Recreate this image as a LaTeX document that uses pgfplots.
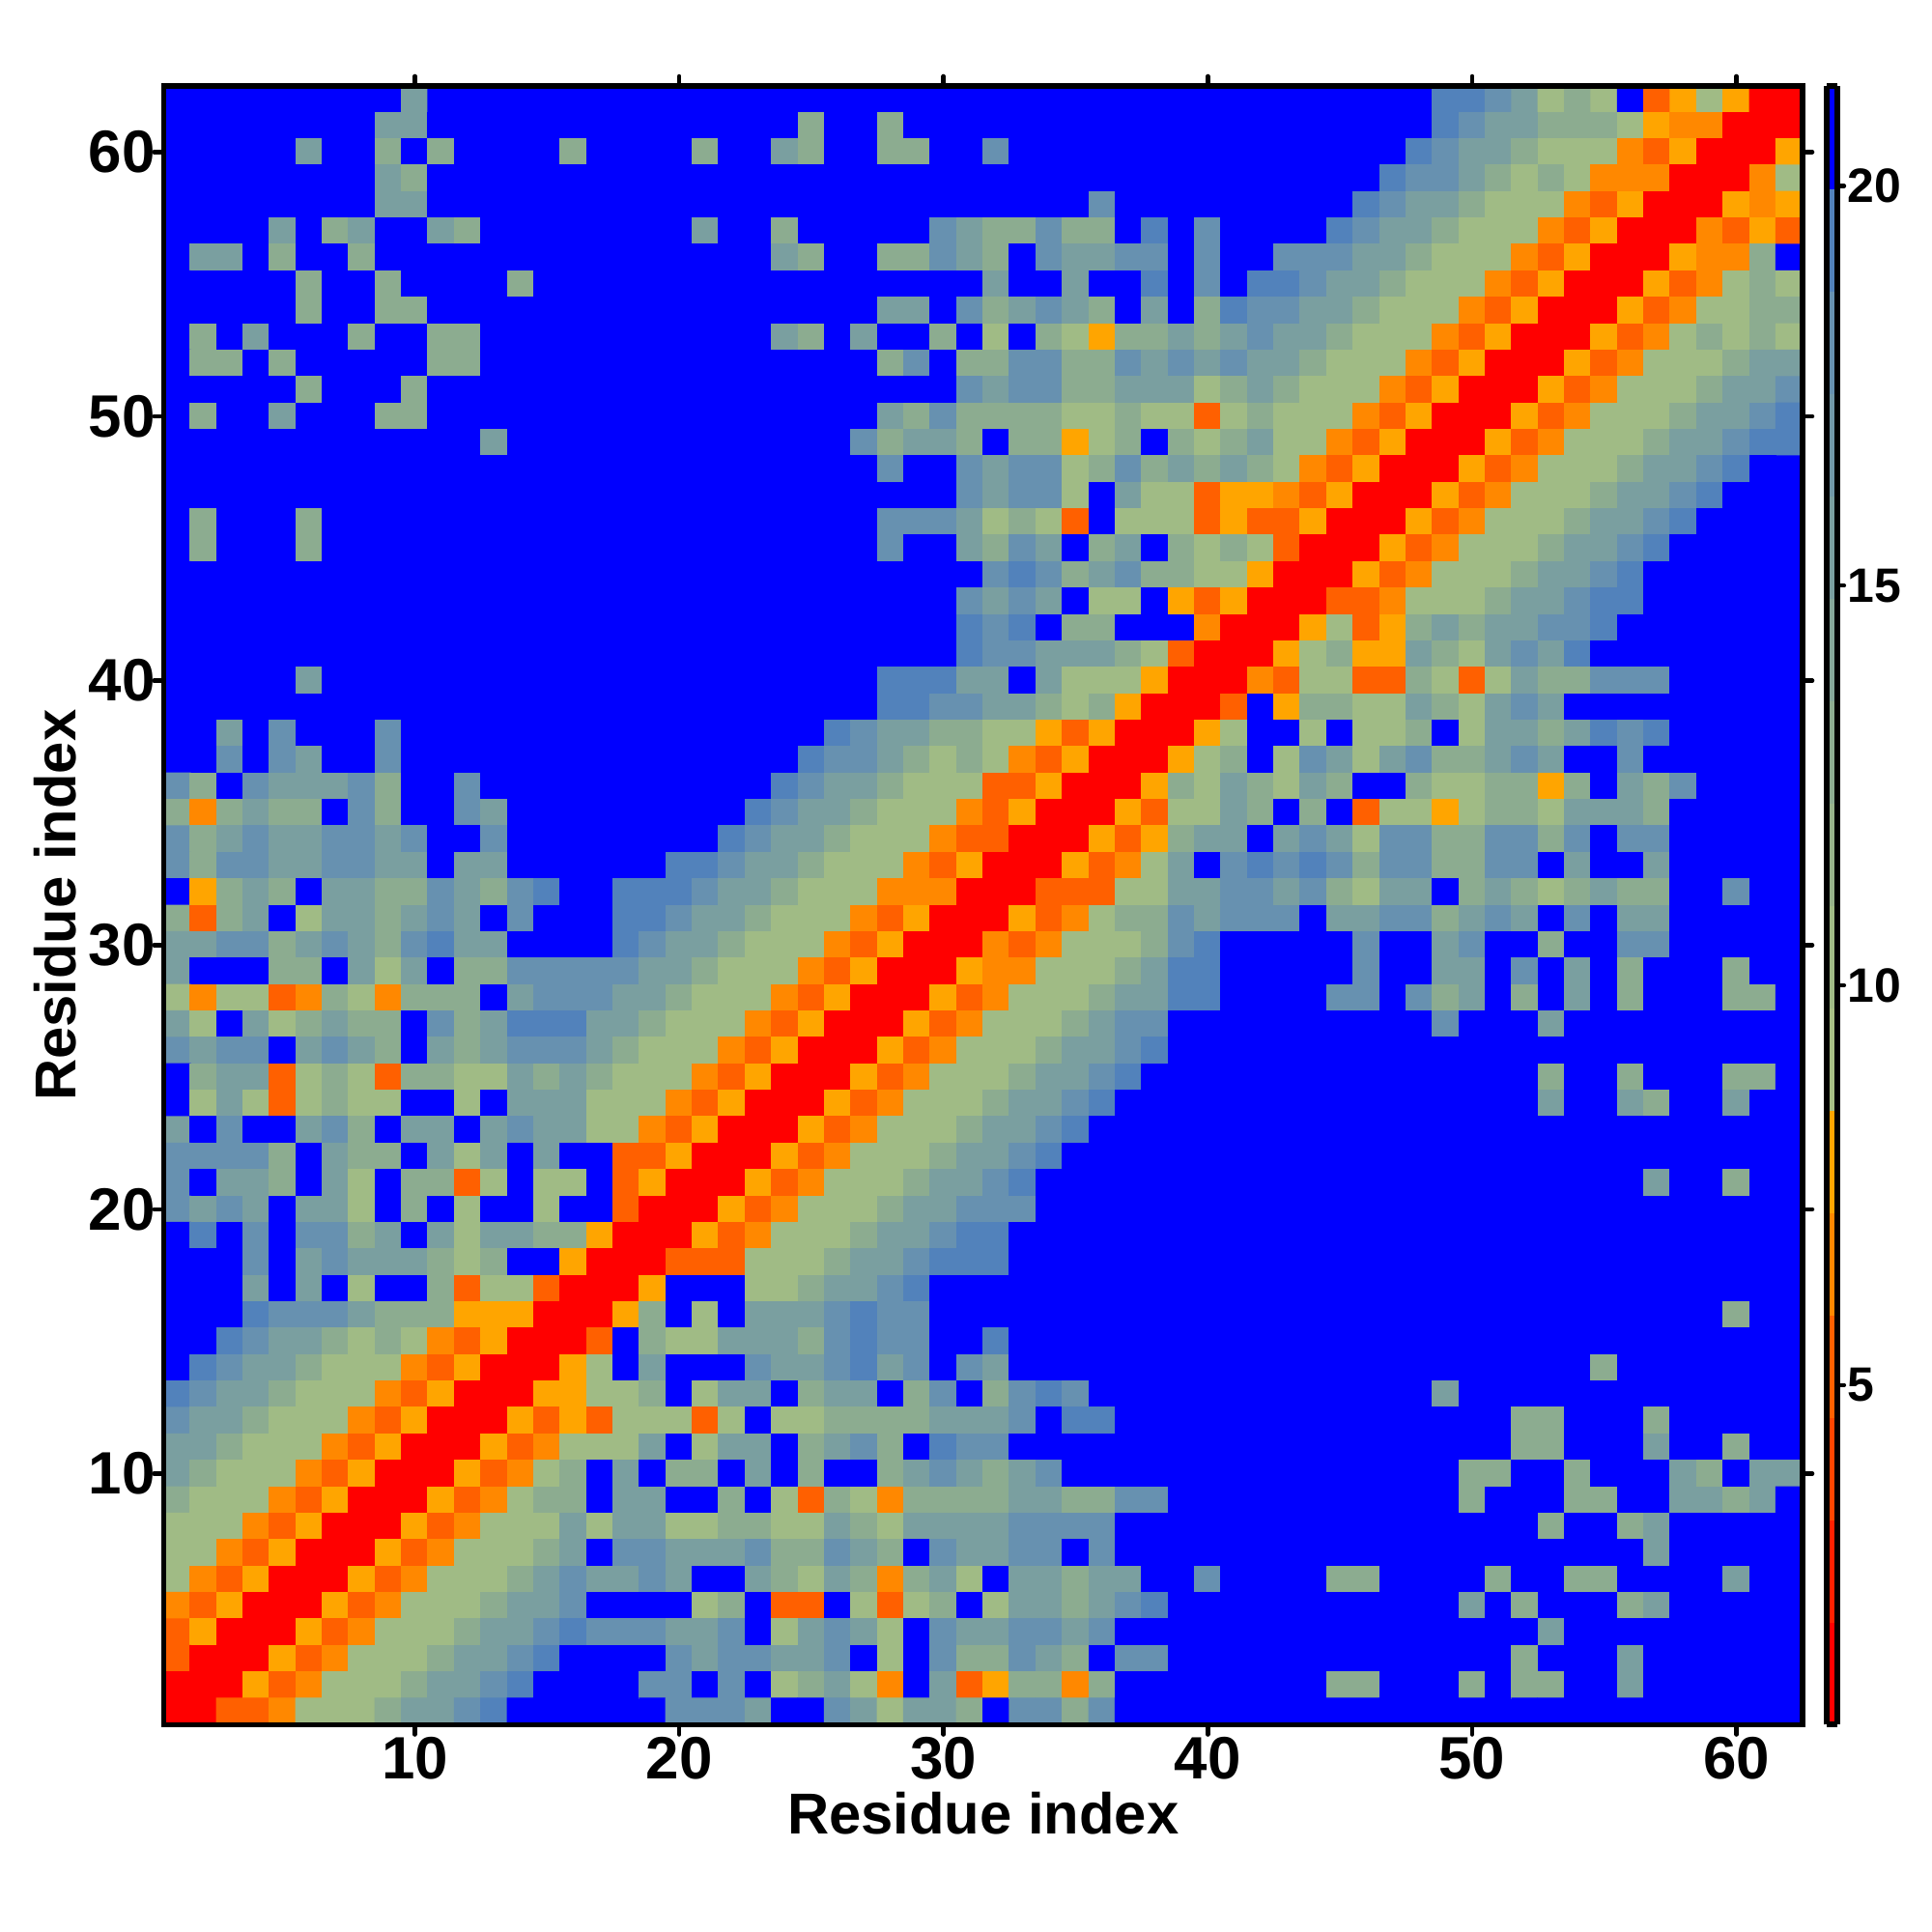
\documentclass[border=0pt]{standalone}
\usepackage{fontspec}
\setmainfont{Liberation Sans}
\usepackage{pgfplots}
\pgfplotsset{compat=1.18}
\newcount\rx \newcount\ry \ry=63
\def\Coords{}
% each digit is a distance class; \Val gives its value on the colour scale
\def\Val#1{\ifcase#1 1.39\or 5.23\or 6.52\or 7.80\or 10.36\or 12.92\or 15.48\or 18.05\or 19.33\or 20.61\fi}
\def\ReadCell#1{\ifx#1\relax\else\advance\rx by 1 \edef\R{\R(\the\rx,\the\ry)[\Val{#1}]}\expandafter\ReadCell\fi}
\def\Row#1{\global\advance\ry by -1 \rx=0 \def\R{}\ReadCell#1\relax\xdef\Coords{\Coords\R}}
\Row{999999999699999999999 999999999999999999999 99999988764549134300}
\Row{999999996699999999999 999599599999999999999 99999987665554322000}
\Row{999996995959999599995 996599559979999999999 99999876654442130003}
\Row{999999996599999999999 999999999999999999999 99998776545422200024}
\Row{999999996699999999999 999999999999997999999 99987665444213000323}
\Row{999969569965999999996 995999997655755989799 99876654442130002131}
\Row{966959959999999999999 996599557659766779799 77766544421300032259}
\Row{999995995999959999999 999999999969969989798 87665444213000312454}
\Row{999995995599999999999 999999669756765969587 76654442130003124455}
\Row{959699959955999999999 996596995949543556567 66544421300031245454}
\Row{955959999955999999999 999999579557755767676 65444213000312444566}
\Row{999995999599999999999 999999999767755666456 54442130003124445667}
\Row{959969995599999999999 999999657555544544145 44421300031244456678}
\Row{999999999999699999999 999997566595534595456 44213000312444566788}
\Row{999999999999999999999 999999799767745756565 42130003124445667899}
\Row{999999999999999999999 999999999767749644133 21300031244456678999}
\Row{959995999999999999999 999999777645419444131 13000312444566789999}
\Row{959995999999999999999 999999799657695695454 10003124445667899999}
\Row{999999999999999999999 999999999978756755443 00031244456678999999}
\Row{999999999999999999999 999999999767694493130 00112444566788999999}
\Row{999999999999999999999 999999999878955999200 03413565667789999999}
\Row{999999999999999999999 999999999877666541000 34533654676899999999}
\Row{999996999999999999999 999999888669644430002 14411541465577799999}
\Row{999999999999999999999 999999887766545300019 35544654676999999999}
\Row{996979997999999999999 999987665544313000349 94944594665687899999}
\Row{997976997999999999999 999877654542130003459 47646755676997999999}
\Row{759766675997999999999 998766544411300035465 46599544553596579999}
\Row{525655975997699999999 987665444213000314465 95914434554666599999}
\Row{756766776799799999999 876654442110003135669 67647755775797799999}
\Row{757766776696699999988 766544421300031246978 78757755779699699999}
\Row{935659665576578998887 665444222000111446677 67546695654565599799}
\Row{515694665676979998876 654442130003124557677 79667756769796699999}
\Row{667756765786699998766 544421300021244457899 99979967995997799999}
\Row{699955964695577777665 444213000322444568899 99979966979695999599}
\Row{424412542555967776654 442130003124445668899 99779756959695999559}
\Row{649645655975688866544 421300031244456779999 99999979996999999999}
\Row{767796765965677765444 213000312444566789999 99999999999999999999}
\Row{956614541554465654442 130003124445667899999 99999999995995999559}
\Row{946414544994966644421 300031244456678999999 99999999996996599699}
\Row{697996759669676644213 000312444566789999999 99999999999999999999}
\Row{777759655964696991130 003124445667899999999 99999999999999999999}
\Row{796659649551494491300 031244456678999999999 99999999999999699599}
\Row{767696649594994991000 312444566777999999999 99999999999999999999}
\Row{989797756964665530003 124445667889999999999 99999999999999999999}
\Row{999796766654599300011 144456678889999999999 99999999999999999999}
\Row{999696949951441000399 944566789999999999999 99999999999999999999}
\Row{999877765553330003594 966678779999999999999 99999999999999999599}
\Row{998766545421300019544 666578779989999999999 99999999999999999999}
\Row{987665444213000349699 976678679769999999999 99999999999959999999}
\Row{876654442130003344594 669566957957879999999 99999969999999999999}
\Row{766544421300031314441 494455556667988999999 99999999955999599999}
\Row{665444213000312444694 669567598779999999999 99999999955999699599}
\Row{654442130003124596955 969599567656799999999 99999995599599965966}
\Row{544421300031245596699 594154255556655779999 99999995999559966569}
\Row{444213000312444646644 554465466667777999999 99999999995995699999}
\Row{442130003124445697766 675576597667797999999 99999999999999699999}
\Row{421300031244456766769 965465256496656699799 99559999599559999699}
\Row{213000312444566799994 591194145946656789999 99999996959995699999}
\Row{130003124445667877766 794676497667767999999 99999999996999999999}
\Row{100031244456678999976 776679497557659779999 99999999959996999999}
\Row{000312444566789999779 794564296135525999999 99559995955996999999}
\Row{001124445667899999977 769976466597757999999 99999999999999999999}
\pgfplotsset{
  colormap={contact}{rgb255=(255,0,0) rgb255=(255,32,0) rgb255=(255,69,0) rgb255=(255,96,0) rgb255=(255,136,0) rgb255=(255,165,0)
    rgb255=(168,192,132) rgb255=(160,187,133) rgb255=(151,179,138) rgb255=(140,172,144) rgb255=(132,166,152) rgb255=(122,159,160)
    rgb255=(113,152,168) rgb255=(103,145,176) rgb255=(82,130,187) rgb255=(0,0,255)},
}
\begin{document}
\begin{tikzpicture}
\path[use as bounding box] (0,0) rectangle (20cm,20cm);
\def\DoPlot#1{\addplot[matrix plot*, mesh/cols=62, point meta=explicit, colormap access=piecewise constant] coordinates {#1};}
\begin{axis}[
  at={(1.695cm,2.145cm)}, anchor=south west,
  scale only axis, width=16.965cm, height=16.965cm,
  xmin=0.5, xmax=62.5, ymin=0.5, ymax=62.5,
  axis on top,
  axis line style={line width=1.6pt, black},
  xtick={10,20,30,40,50,60}, ytick={10,20,30,40,50,60},
  tick align=outside, major tick length=0.1cm,
  tick style={line width=1.3pt, black, line cap=round},
  /pgf/number format/assume math mode=true,
  tick label style={font=\fontsize{17.6}{20}\selectfont\bfseries},
  xticklabel style={inner sep=0pt, yshift=-0.02cm},
  yticklabel style={inner sep=0pt, xshift=0.02cm},
  xlabel={Residue index}, ylabel={Residue index},
  label style={font=\fontsize{17}{20}\selectfont\bfseries},
  xlabel style={at={(axis description cs:0.5,0)}, anchor=base, yshift=-1.135cm},
  ylabel style={at={(axis description cs:0,0.5)}, anchor=base, yshift=0.91cm},
  colormap name=contact,
  colormap access=piecewise constant,
  point meta min=0.75, point meta max=21.25,
  colorbar,
  colorbar sampled,
  colorbar style={
    samples=17,
    colormap access=piecewise constant,
    at={(parent axis.north east)}, anchor=north west, xshift=-0.05cm,
    scale only axis, width=0.11cm, height=16.965cm,
    xtick=\empty,
    ytick={5,10,15,20},
    ytick pos=right,
    axis line style={line width=1.7pt, black},
    tick align=outside, major tick length=0.07cm,
    tick style={line width=1.2pt, black, line cap=round},
    yticklabel style={font=\fontsize{14.2}{16}\selectfont\bfseries, inner sep=0pt, xshift=0.03cm},
    /pgf/number format/assume math mode=true,
  },
]
\expandafter\DoPlot\expandafter{\Coords}
\end{axis}
\end{tikzpicture}
\end{document}
